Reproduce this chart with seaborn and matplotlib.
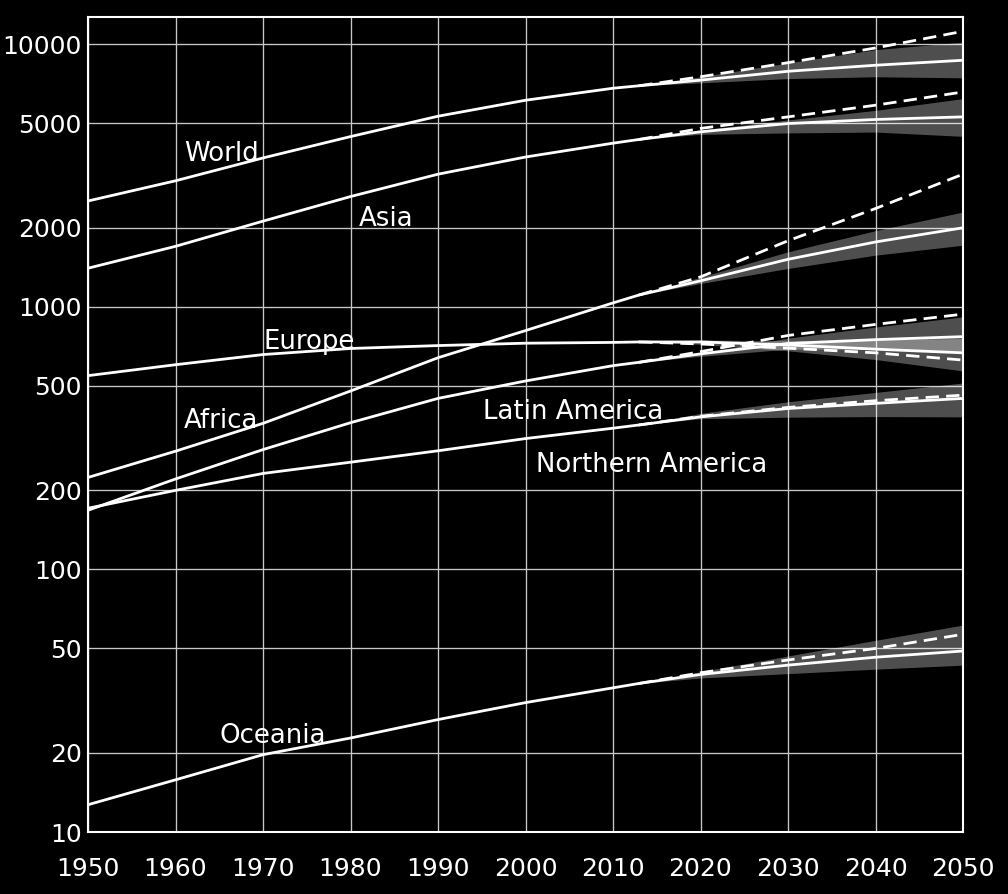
import matplotlib
matplotlib.use("Agg")
import matplotlib.pyplot as plt
import seaborn as sns
import pandas as pd
from matplotlib.ticker import FixedLocator, FixedFormatter, NullLocator

# ---------------- data (millions) ----------------
hist_years = [1950, 1960, 1970, 1980, 1990, 2000, 2010, 2013]
proj_years = [2013, 2020, 2030, 2040, 2050]

world_hist = [2530, 3020, 3690, 4450, 5320, 6120, 6800, 6950]
world_med = [6950, 7300, 7890, 8320, 8690]
world_const = [6950, 7520, 8510, 9680, 11200]
world_hi = [6950, 7520, 8490, 9540, 10190]
world_lo = [6950, 7130, 7400, 7520, 7450]

asia_hist = [1403, 1700, 2120, 2630, 3200, 3720, 4200, 4340]
asia_med = [4340, 4640, 4990, 5170, 5290]
asia_const = [4340, 4780, 5290, 5860, 6580]
asia_hi = [4340, 4720, 5150, 5600, 6210]
asia_lo = [4340, 4540, 4595, 4630, 4460]

africa_hist = [224, 282, 360, 478, 640, 812, 1035, 1110]
africa_med = [1110, 1256, 1517, 1766, 2000]
africa_const = [1110, 1300, 1785, 2368, 3200]
africa_hi = [1110, 1297, 1620, 1950, 2297]
africa_lo = [1110, 1227, 1400, 1573, 1717]

europe_hist = [547, 602, 658, 694, 712, 727, 732, 735]
europe_med = [735, 735, 716, 690, 668]
europe_const = [735, 722, 696, 668, 627]
europe_hi = [735, 748, 742, 750, 757]
europe_lo = [735, 720, 680, 630, 570]

latam_hist = [168, 221, 286, 362, 448, 522, 597, 615]
latam_med = [615, 662, 725, 750, 770]
latam_const = [615, 675, 778, 857, 938]
latam_hi = [615, 668, 760, 838, 916]
latam_lo = [615, 648, 690, 690, 674]

namer_hist = [171, 200, 232, 256, 283, 315, 345, 355]
namer_med = [355, 381, 410, 429, 448]
namer_const = [355, 383, 414, 439, 461]
namer_hi = [355, 393, 435, 472, 513]
namer_lo = [355, 375, 380, 382, 381]

oceania_hist = [12.7, 15.8, 19.7, 22.8, 26.8, 31.1, 35.4, 36.8]
oceania_med = [36.8, 39.8, 43.2, 46.3, 48.9]
oceania_const = [36.8, 40.4, 45.2, 50.0, 56.6]
oceania_hi = [36.8, 40.8, 46.8, 53.7, 61.4]
oceania_lo = [36.8, 38.6, 40.1, 41.7, 43.2]

regions = ["World", "Asia", "Africa", "Europe", "Latin America",
           "Northern America", "Oceania"]
series = {
    "World": (world_hist, world_med, world_const, world_hi, world_lo),
    "Asia": (asia_hist, asia_med, asia_const, asia_hi, asia_lo),
    "Africa": (africa_hist, africa_med, africa_const, africa_hi, africa_lo),
    "Europe": (europe_hist, europe_med, europe_const, europe_hi, europe_lo),
    "Latin America": (latam_hist, latam_med, latam_const, latam_hi, latam_lo),
    "Northern America": (namer_hist, namer_med, namer_const, namer_hi, namer_lo),
    "Oceania": (oceania_hist, oceania_med, oceania_const, oceania_hi, oceania_lo),
}

x_ticks = [1950, 1960, 1970, 1980, 1990, 2000, 2010, 2020, 2030, 2040, 2050]
y_ticks = [10, 20, 50, 100, 200, 500, 1000, 2000, 5000, 10000]
y_tick_labels = ["10", "20", "50", "100", "200", "500", "1000", "2000", "5000", "10000"]

# ---------------- long table ----------------
rows = []
for r in regions:
    h, m, c, hi, lo = series[r]
    for yr, v in zip(hist_years, h):
        rows.append((r, r + "-hist", "solid", yr, v))
    for yr, v in zip(proj_years, m):
        rows.append((r, r + "-med", "solid", yr, v))
    for yr, v in zip(proj_years, c):
        rows.append((r, r + "-const", "dashed", yr, v))
df = pd.DataFrame(rows, columns=["region", "key", "kind", "year", "pop"])

# ---------------- style ----------------
sns.set_style("dark", {
    "axes.facecolor": "black",
    "figure.facecolor": "black",
    "axes.edgecolor": "white",
    "grid.color": "#c8c8c8",
    "text.color": "white",
    "xtick.color": "white",
    "ytick.color": "white",
    "axes.labelcolor": "white",
})
plt.rcParams["font.family"] = ["DejaVu Sans"]

fig = plt.figure(figsize=(10.08, 8.94), dpi=100)
fig.patch.set_facecolor("black")
ax = fig.add_axes([88 / 1008, 1 - 832 / 894, (963 - 88) / 1008, (832 - 17) / 894])
ax.set_facecolor("black")

# uncertainty bands
for r in regions:
    h, m, c, hi, lo = series[r]
    ax.fill_between(proj_years, lo, hi, color="white", alpha=0.31, lw=0, zorder=1)

sns.lineplot(data=df, x="year", y="pop", units="key", estimator=None,
             style="kind", dashes={"solid": "", "dashed": (4.8, 2.6)},
             color="white", linewidth=2.0, legend=False, ax=ax, zorder=3)

ax.set_yscale("log")
ax.set_xlim(1950, 2050)
ax.set_ylim(10, 12700)
ax.xaxis.set_major_locator(FixedLocator(x_ticks))
ax.yaxis.set_major_locator(FixedLocator(y_ticks))
ax.yaxis.set_major_formatter(FixedFormatter(y_tick_labels))
ax.yaxis.set_minor_locator(NullLocator())
ax.set_xlabel("")
ax.set_ylabel("")
ax.grid(True, which="major", color="#c8c8c8", linewidth=0.95)
ax.set_axisbelow(True)
ax.tick_params(axis="both", which="both", length=0, labelsize=18, colors="white")
ax.tick_params(axis="x", pad=18)
ax.tick_params(axis="y", pad=4.5)
for s in ax.spines.values():
    s.set_color("white")
    s.set_linewidth(1.5)
    s.set_visible(True)

# region labels
label_kw = dict(color="white", fontsize=18.7, ha="left", va="baseline", zorder=4)
ax.text(1961.0, 3586, "World", **label_kw)
ax.text(1981.0, 2028, "Asia", **label_kw)
ax.text(1970.0, 690, "Europe", **label_kw)
ax.text(1961.0, 347, "Africa", **label_kw)
ax.text(1995.1, 373.5, "Latin America", **label_kw)
ax.text(2001.2, 235.3, "Northern America", **label_kw)
ax.text(1965.0, 21.76, "Oceania", **label_kw)

fig.savefig("out.png", dpi=100, facecolor="black")
